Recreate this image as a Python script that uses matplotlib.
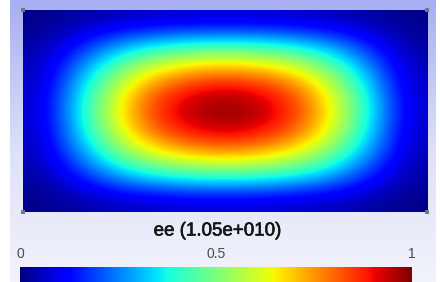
import numpy as np
import matplotlib
matplotlib.use("Agg")
import matplotlib.pyplot as plt
import matplotlib.patheffects as pe
from matplotlib.colors import LinearSegmentedColormap

# Field values (rows: top->bottom, cols: left->right), scale 0..1
field = np.array([
    [0.01, 0.03, 0.05, 0.06, 0.07, 0.07, 0.07, 0.06, 0.05, 0.03, 0.01],
    [0.03, 0.13, 0.25, 0.33, 0.37, 0.38, 0.37, 0.33, 0.25, 0.13, 0.03],
    [0.05, 0.24, 0.45, 0.60, 0.68, 0.71, 0.68, 0.60, 0.45, 0.24, 0.05],
    [0.06, 0.32, 0.58, 0.79, 0.89, 0.93, 0.89, 0.79, 0.58, 0.32, 0.06],
    [0.07, 0.35, 0.63, 0.85, 0.96, 1.00, 0.96, 0.85, 0.63, 0.35, 0.07],
    [0.06, 0.32, 0.58, 0.79, 0.89, 0.93, 0.89, 0.79, 0.58, 0.32, 0.06],
    [0.05, 0.24, 0.45, 0.60, 0.68, 0.71, 0.68, 0.60, 0.45, 0.24, 0.05],
    [0.03, 0.13, 0.25, 0.33, 0.37, 0.38, 0.37, 0.33, 0.25, 0.13, 0.03],
    [0.01, 0.03, 0.05, 0.06, 0.07, 0.07, 0.07, 0.06, 0.05, 0.03, 0.01],
])
title = "ee (1.05e+010)"
cbar_ticks = [0, 0.5, 1]
cbar_labels = ["0", "0.5", "1"]

W, H = 440, 282
fig = plt.figure(figsize=(W / 100, H / 100), dpi=100)
fig.patch.set_facecolor("white")

def ax_px(x0, y0, x1, y1, **kw):
    return fig.add_axes([x0 / W, 1 - y1 / H, (x1 - x0) / W, (y1 - y0) / H], **kw)

# background gradient panel
bg = ax_px(10, 0, 435, 282)
bg.axis("off")
bgcmap = LinearSegmentedColormap.from_list("bg", [(0.0, "#a7aff2"), (0.55, "#dfe2f8"), (1.0, "#f2f3fb")])
grad = np.linspace(0, 1, 256).reshape(-1, 1)
bg.imshow(grad, aspect="auto", cmap=bgcmap, extent=[0, 1, 0, 1], origin="upper")
bg.set_xlim(0, 1); bg.set_ylim(0, 1)

# heatmap
ax = ax_px(22.5, 10, 426.5, 212)
ax.imshow(field, cmap="jet", vmin=0, vmax=1, aspect="auto", interpolation="bicubic",
          extent=[0, 1, 1, 0], origin="upper")
ax.set_xlim(0, 1); ax.set_ylim(1, 0)
ax.set_xticks([]); ax.set_yticks([])
for s in ax.spines.values():
    s.set_visible(False)
ax.plot([0, 1, 0, 1], [0, 0, 1, 1], ls="none", marker="s", ms=3, color="#707888",
        clip_on=False, mew=0)

# title
fig.text(217.5 / W, 1 - 231 / H, title, ha="center", va="center", fontsize=13.5,
         family="Liberation Sans", color="#151515",
         path_effects=[pe.withStroke(linewidth=0.45, foreground="#151515")])

# colorbar
cax = ax_px(20, 267, 412, 290)
cgrad = np.linspace(0, 1, 512).reshape(1, -1)
cax.imshow(cgrad, cmap="jet", aspect="auto", extent=[0, 1, 0, 1], vmin=0, vmax=1)
cax.set_xlim(0, 1); cax.set_ylim(0, 1)
cax.axis("off")
for t, lab in zip(cbar_ticks, cbar_labels):
    cax.text(t, 1 + 13.5 / 23, lab, ha="center", va="center", fontsize=10,
             family="Liberation Sans", color="#4a4a4a", transform=cax.transAxes)

fig.savefig("out.png", dpi=100, facecolor="white")
